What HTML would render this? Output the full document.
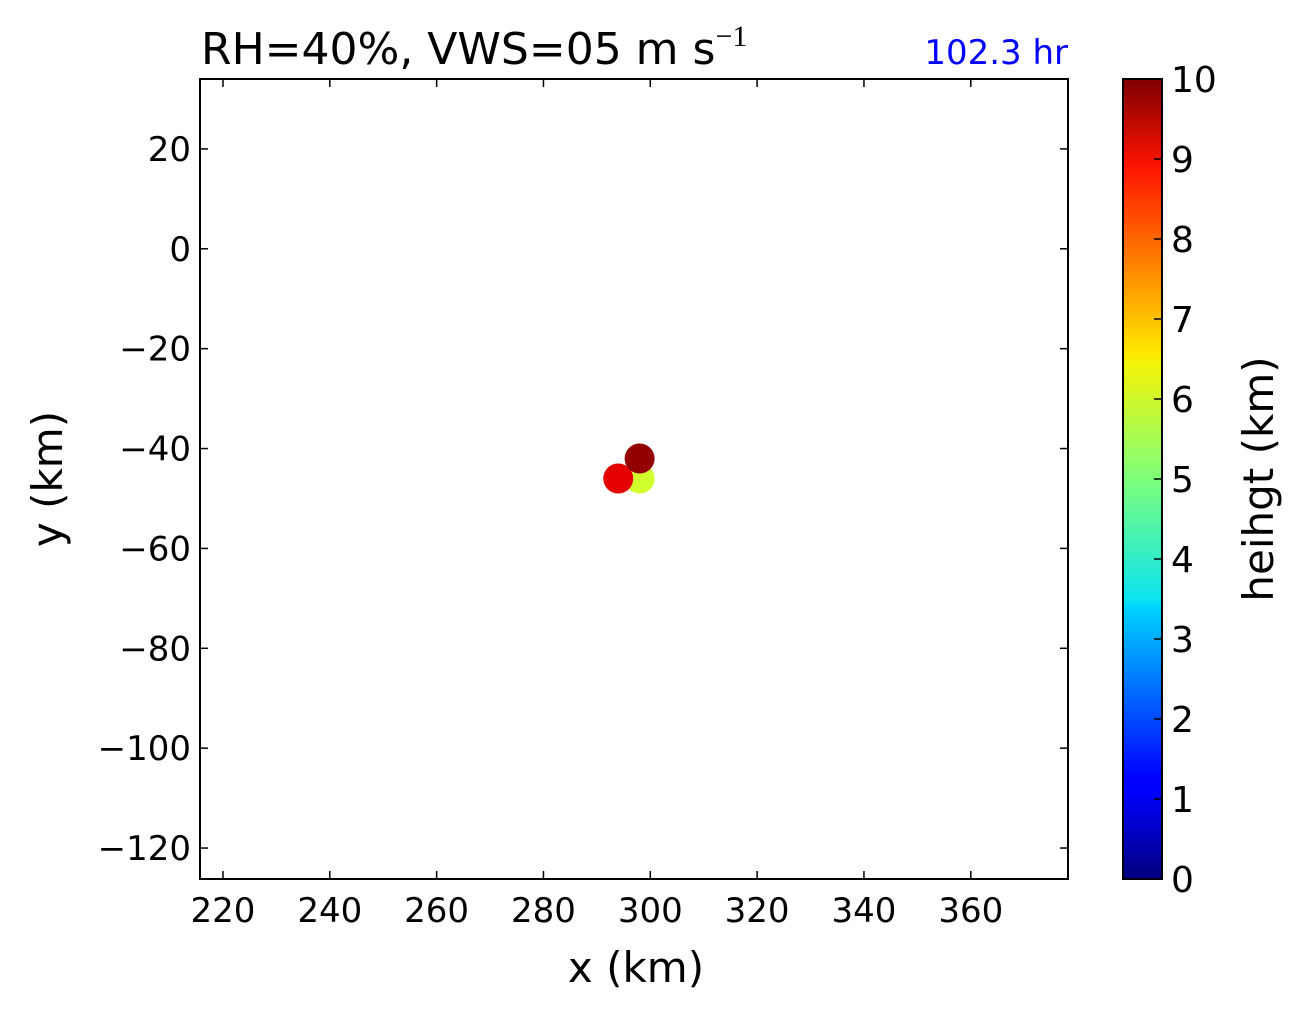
<!DOCTYPE html>
<html><head><meta charset="utf-8"><style>
html,body{margin:0;padding:0;background:#fff;}
svg text{font-family:"DejaVu Sans","Liberation Sans",sans-serif;}
</style></head><body>
<svg id="chart" width="1304" height="1012" viewBox="0 0 1304 1012" xmlns="http://www.w3.org/2000/svg">
<defs>
<linearGradient id="jet" x1="0" y1="1" x2="0" y2="0">
<stop offset="0" stop-color="#00007f"/>
<stop offset="0.11" stop-color="#0000ff"/>
<stop offset="0.125" stop-color="#0000ff"/>
<stop offset="0.34" stop-color="#00d4ff"/>
<stop offset="0.35" stop-color="#0ce4f0"/>
<stop offset="0.5" stop-color="#7dff7a"/>
<stop offset="0.64" stop-color="#f0f50c"/>
<stop offset="0.66" stop-color="#ffe600"/>
<stop offset="0.89" stop-color="#ff1300"/>
<stop offset="1" stop-color="#7f0000"/>
</linearGradient>
</defs>
<text x="201" y="64" font-size="44" fill="#000">RH=40%, VWS=05 m s<tspan dy="-18" font-size="30" font-family="Liberation Serif, serif">−1</tspan></text>
<text x="1068" y="64" font-size="34" fill="#0000ff" text-anchor="end">102.3 hr</text>
<g id="plot"></g>
<text x="636" y="982" font-size="42" text-anchor="middle">x (km)</text>
<text transform="translate(62,479) rotate(-90)" font-size="42" text-anchor="middle">y (km)</text>
<rect x="1123" y="79" width="39" height="800" fill="url(#jet)" stroke="#000" stroke-width="2"/>
<g id="cbar"></g>
<text transform="translate(1273,479) rotate(-90)" font-size="42" text-anchor="middle">heihgt (km)</text>
</svg>
<script>
const xTicks=[220,240,260,280,300,320,340,360];
const yTicks=[20,0,-20,-40,-60,-80,-100,-120];
const cTicks=[0,1,2,3,4,5,6,7,8,9,10];
const ptX=[298,294,298];
const ptY=[-46,-46,-42];
const ptH=[5.8,9.0,9.8];
const L=200,R=1068,T=79,B=879,xmin=215.7,xmax=378.2,ymin=-126.2,ymax=34.0;
const sx=v=>L+(v-xmin)/(xmax-xmin)*(R-L);
const sy=v=>B-(v-ymin)/(ymax-ymin)*(B-T);
const cy=v=>879-v/10*800;
const NS="http://www.w3.org/2000/svg";
function mk(t,a,p){const e=document.createElementNS(NS,t);for(const k in a)e.setAttribute(k,a[k]);p.appendChild(e);return e;}
function jet(v){v=Math.max(0,Math.min(1,v));
 const r=Math.min(4*v-1.5,-4*v+4.5),g=Math.min(4*v-0.5,-4*v+3.5),b=Math.min(4*v+0.5,-4*v+2.5);
 const c=x=>Math.round(255*Math.max(0,Math.min(1,x)));return `rgb(${c(r)},${c(g)},${c(b)})`;}
const g=document.getElementById('plot');
ptX.forEach((x,i)=>{const c=mk('circle',{cx:sx(x),cy:sy(ptY[i]),r:15,fill:jet(ptH[i]/10)},g);

});
const fr=mk('rect',{x:L,y:T,width:R-L,height:B-T,fill:'none',stroke:'#000','stroke-width':2},g);


xTicks.forEach(v=>{const x=sx(v);
mk('line',{x1:x,x2:x,y1:B,y2:B-8,stroke:'#000','stroke-width':1.5},g);
mk('line',{x1:x,x2:x,y1:T,y2:T+8,stroke:'#000','stroke-width':1.5},g);
const t=mk('text',{x:x,y:B+43,'font-size':34,'text-anchor':'middle'},g);t.textContent=v;

});
yTicks.forEach(v=>{const y=sy(v);
mk('line',{x1:L,x2:L+8,y1:y,y2:y,stroke:'#000','stroke-width':1.5},g);
mk('line',{x1:R,x2:R-8,y1:y,y2:y,stroke:'#000','stroke-width':1.5},g);
const t=mk('text',{x:L-9,y:y+12,'font-size':34,'text-anchor':'end'},g);t.textContent=(v<0?'\u2212'+(-v):v);

});
const cg=document.getElementById('cbar');
cTicks.forEach(v=>{const y=cy(v);
mk('line',{x1:1162,x2:1154,y1:y,y2:y,stroke:'#000','stroke-width':1.5},cg);
const t=mk('text',{x:1171,y:y+13,'font-size':36},cg);t.textContent=v;

});
</script>
</body></html>
